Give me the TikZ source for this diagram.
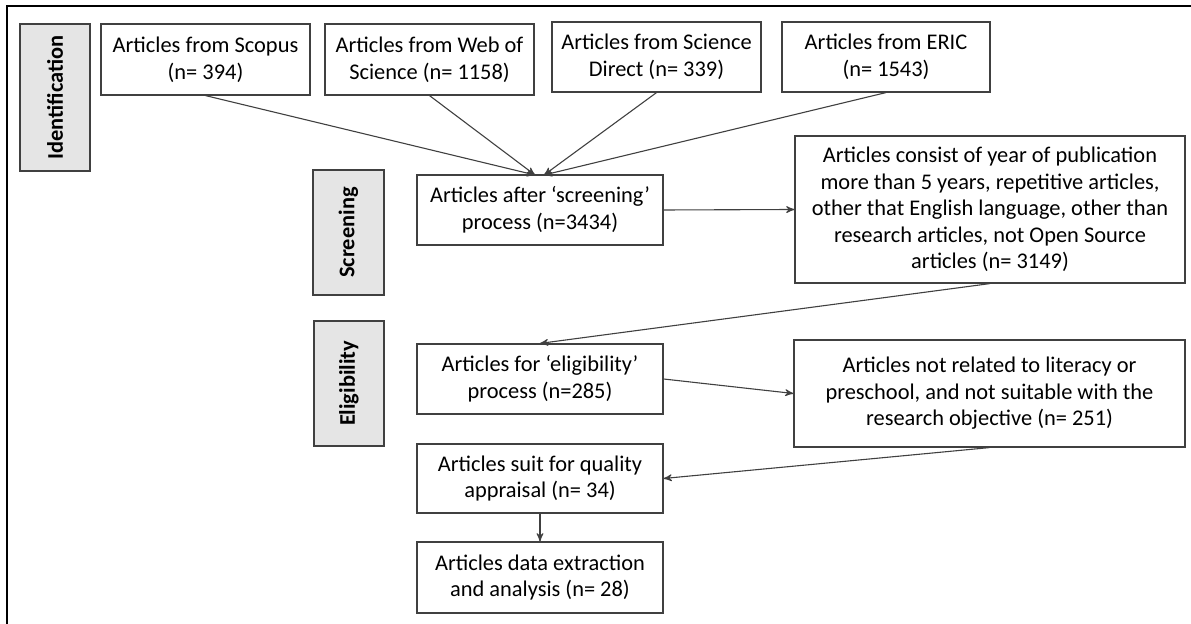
\documentclass[tikz,border=0pt]{standalone}
\usepackage{fontspec}
\setmainfont{Carlito}
\usepackage{tikz}
\usetikzlibrary{positioning, arrows}
\definecolor{edgegray}{HTML}{404040}
\tikzset{
>=stealth', % small filled arrow heads
box/.style={draw=edgegray, line width=0.6pt, fill=white, align=center, inner sep=2pt,
  font=\fontsize{11.2}{13.3}\selectfont}, % every white process box
phase/.style={box, fill=gray!20, rotate=90, font=\fontsize{11.2}{13.3}\selectfont\bfseries}, % grey stage labels
flow/.style={->, line width=0.55pt}, % connectors
every edge/.style={draw=edgegray},
}

\begin{document}
\begin{tikzpicture}[x=0.5pt, y=-0.5pt]
    \useasboundingbox (0,0) rectangle (1191,624);
    \draw[line width=0.75pt] (1191,6) -- (7,6) -- (7,624);

    % stage labels
    \node[phase, minimum width=73.5pt, minimum height=35pt] (ident) at (55,97.5) {Identification};
    \node[phase, minimum width=62.5pt, minimum height=35.5pt] (screen) at (348.5,232.5) {Screening};
    \node[phase, minimum width=62.5pt, minimum height=35pt] (elig) at (349,383.5) {Eligibility};

    % sources
    \node[box, minimum width=104.5pt, minimum height=35.5pt] (scopus) at (205.5,59.5) {Articles from Scopus\\(n= 394)};
    \node[box, minimum width=104.5pt, minimum height=35.5pt] (wos) at (429.5,59.5) {Articles from Web of\\Science (n= 1158)};
    \node[box, minimum width=104.5pt, minimum height=35pt] (sd) at (656.5,57) {Articles from Science\\Direct (n= 339)};
    \node[box, minimum width=104pt, minimum height=35pt] (eric) at (886,57) {Articles from ERIC\\(n= 1543)};

    % main flow
    \node[box, minimum width=123pt, minimum height=35pt] (screened) at (540,210) {Articles after ‘screening’\\process (n=3434)};
    \node[box, minimum width=123pt, minimum height=35pt] (eligible) at (540,379) {Articles for ‘eligibility’\\process (n=285)};
    \node[box, minimum width=123pt, minimum height=34.5pt] (quality) at (540,478.5) {Articles suit for quality\\appraisal (n= 34)};
    \node[box, minimum width=123pt, minimum height=35.5pt] (final) at (540,577.5) {Articles data extraction\\and analysis (n= 28)};

    % excluded
    \node[box, minimum width=195pt, minimum height=73.5pt] (excl1) at (990,209.5) {Articles consist of year of publication\\more than 5 years, repetitive articles,\\other that English language, other than\\research articles, not Open Source\\articles (n= 3149)};
    \node[box, minimum width=195.5pt, minimum height=53.5pt] (excl2) at (989.5,393.5) {Articles not related to literacy or\\preschool, and not suitable with the\\research objective (n= 251)};

    \coordinate (inL) at (535,175);
    \coordinate (inR) at (544,175);

    \path[flow]
    (scopus.south) edge (inL)
    (wos.south) edge (inL)
    (sd.south) edge (inR)
    (eric.south) edge (inR)
    (screened.east) edge (excl1.west)
    (excl1.south) edge (eligible.north)
    (eligible.east) edge (excl2.west)
    (excl2.south) edge (quality.east)
    (quality.south) edge (final.north);
\end{tikzpicture}
\end{document}
